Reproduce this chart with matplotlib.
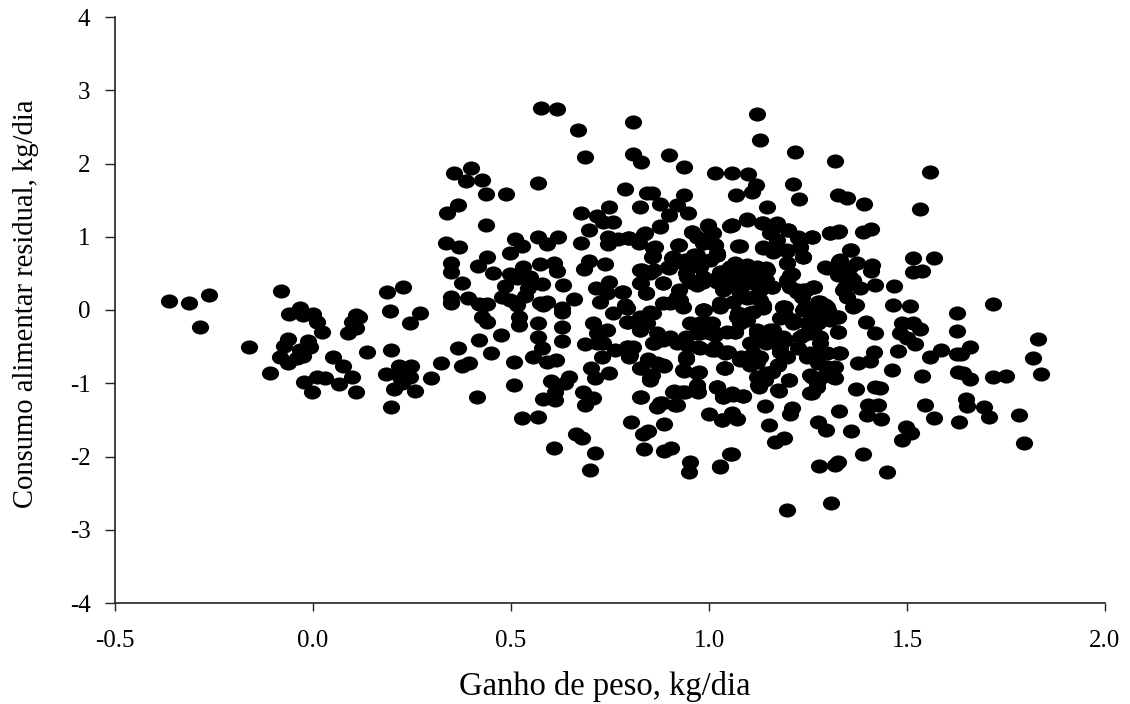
import matplotlib
matplotlib.use('Agg')
import matplotlib.pyplot as plt
from matplotlib.path import Path
from matplotlib.transforms import Affine2D

plt.rcParams['font.family'] = ['Liberation Serif', 'DejaVu Serif']
plt.rcParams['axes.unicode_minus'] = False

# Values, by region: left group
x_left = [-0.363, -0.312, -0.263, -0.285, -0.162, -0.109, -0.081, -0.033, -0.061, -0.026, 0.001, 0.009, 0.022,
          -0.062, -0.072, -0.012, -0.008, -0.033, -0.083, -0.062, -0.024, -0.041, 0.05, 0.075, 0.098, 0.009,
          0.03, -0.023, -0.003, 0.066, 0.108, 0.137, 0.197, 0.109, 0.117, 0.098, 0.108, 0.088, 0.188, 0.227,
          0.194, 0.269, 0.246, 0.323, 0.217, 0.247, 0.184, 0.22, 0.245, 0.297, 0.224, 0.205, 0.258, 0.225, 0.197]
y_left = [0.12, 0.09, 0.20, -0.23, -0.505, -0.86, 0.255, 0.03, -0.055, -0.07, -0.055, -0.16, -0.295,
          -0.40, -0.49, -0.42, -0.50, -0.546, -0.646, -0.73, -0.63, -0.66, -0.64, -0.77, -0.91, -0.91,
          -0.93, -0.98, -1.115, -1.01, -1.115, -0.573, -0.55, -0.068, -0.09, -0.168, -0.24, -0.31, 0.246, 0.31,
          -0.01, -0.04, -0.178, -0.72, -0.77, -0.77, -0.88, -0.91, -0.91, -0.93, -0.98, -1.08, -1.10, -1.0, -1.33]

# upper middle
x_upmid = [0.577, 0.617, 0.668, 0.807, 0.688, 0.807, 0.828, 0.898, 0.938, 1.015, 0.398, 0.357, 0.387, 0.428,
           0.438, 0.487, 0.567, 0.788, 0.843, 0.855, 0.938, 0.877, 0.918, 0.367, 0.338, 0.827, 0.898, 0.948,
           0.677, 0.748, 0.717, 0.757, 0.733, 0.698, 0.437, 0.877, 0.958, 0.997, 1.01, 1.053, 0.969, 0.335,
           0.369, 0.509, 0.529, 0.498, 0.567, 0.59, 0.619, 0.677, 0.746, 0.746, 0.771, 0.798, 0.824, 0.837,
           0.864, 0.858, 0.923, 0.906, 0.898, 1.016, 1.02, 0.986, 0.961, 0.935, 0.969, 1.003, 0.439, 0.416,
           0.348, 0.349, 0.454, 0.375, 0.348, 0.348, 0.392, 0.418, 0.439, 0.531, 0.572, 0.609, 0.615, 0.498,
           0.485, 0.477, 0.497, 0.516, 0.514, 0.548, 0.578, 0.544, 0.536, 0.573, 0.59, 0.632, 0.658, 0.628,
           0.698, 0.684, 0.738, 0.714, 0.748, 0.78, 0.742, 0.725, 0.788, 0.826, 0.86, 0.828, 0.841, 0.885,
           0.923, 0.927, 0.885, 0.986, 1.028, 0.944, 0.986, 1.028, 1.02, 0.969, 1.045, 1.053]
y_upmid = [2.753, 2.748, 2.452, 2.562, 2.084, 2.134, 2.025, 2.12, 1.952, 1.874, 1.943, 1.875, 1.76, 1.779,
           1.588, 1.588, 1.729, 1.647, 1.592, 1.592, 1.57, 1.447, 1.429, 1.438, 1.329, 1.406, 1.297, 1.324,
           1.319, 1.401, 1.283, 1.197, 1.206, 1.092, 1.16, 1.137, 1.069, 1.151, 1.046, 1.151, 1.0, 0.91,
           0.864, 0.965, 0.878, 0.778, 1.0, 0.896, 0.992, 0.915, 1.001, 0.896, 0.965, 0.978, 0.91, 1.037,
           0.864, 0.742, 0.887, 0.705, 0.569, 0.887, 0.751, 0.91, 0.751, 0.637, 0.637, 0.683, 0.728, 0.605,
           0.637, 0.523, 0.509, 0.373, 0.182, 0.114, 0.159, 0.077, 0.077, 0.591, 0.628, 0.637, 0.532, 0.487,
           0.327, 0.182, 0.137, 0.068, 0.432, 0.455, 0.355, 0.296, 0.191, 0.091, 0.114, 0.341, 0.145, 0.023,
           0.669, 0.56, 0.623, 0.296, 0.386, 0.241, 0.227, 0.114, 0.068, 0.546, 0.546, 0.364, 0.227, 0.373,
           0.273, 0.136, 0.091, 0.0, 0.091, 0.455, 0.455, 0.523, 0.386, 0.341, 0.318, 0.591]

# lower middle
x_lowmid = [0.348, 0.43, 0.426, 0.439, 0.519, 0.52, 0.582, 0.569, 0.628, 0.628, 0.568, 0.628, 0.578, 0.475,
            0.418, 0.367, 0.45, 0.556, 0.59, 0.614, 0.508, 0.395, 0.377, 0.508, 0.415, 0.601, 0.647, 0.636,
            0.611, 0.58, 0.611, 0.681, 0.708, 0.687, 0.528, 0.568, 0.663, 0.679, 0.608, 0.711, 0.7, 0.703,
            0.712, 0.748, 0.687, 0.716, 0.731, 0.708, 0.742, 0.716, 0.733, 0.763, 0.792, 0.809, 0.799, 0.757,
            0.788, 0.796, 0.826, 0.851, 0.843, 0.86, 0.885, 0.919, 0.944, 0.978, 0.969, 1.003, 0.994, 0.988,
            1.028, 1.045, 1.015, 1.041, 0.942, 0.847, 0.828, 0.887, 0.868, 0.851, 0.855, 0.937, 0.976, 0.969,
            0.973, 1.039, 1.02, 1.036, 0.912, 0.933, 0.828, 0.881, 0.868, 0.919, 0.803, 0.886, 0.847, 0.834,
            0.999, 1.033, 0.836, 0.887, 0.903, 0.953, 0.95, 1.027, 1.053]
y_lowmid = [0.10, 0.068, -0.091, -0.168, -0.091, -0.205, 0.068, -0.173, -0.023, -0.237, -0.364, -0.423, -0.514, -0.341,
            -0.41, -0.519, -0.587, -0.646, -0.705, -0.682, -0.71, -0.728, -0.76, -1.019, -1.188, -0.969, -0.91, -1.0,
            -1.115, -1.215, -1.229, -1.124, -1.197, -1.297, -1.479, -1.465, -1.692, -1.752, -1.879, -1.947, -2.184, -0.796,
            -0.933, -0.855, -0.469, -0.455, -0.637, -0.182, -0.273, -0.319, -0.455, -0.546, -0.5, -0.5, -0.637, -0.045,
            0.036, -0.159, -0.273, -0.023, -0.182, -0.455, -0.41, -0.432, -0.478, -0.523, -0.319, -0.319, -0.182, 0.0,
            0.068, -0.296, -0.5, -0.59, -0.669, -0.669, -0.796, -0.764, -0.728, -0.955, -0.887, -0.828, -0.842, -1.024,
            -1.115, -0.796, -1.056, -1.183, -1.106, -1.115, -1.183, -1.265, -1.329, -1.297, -1.533, -1.556, -1.647, -1.697,
            -1.42, -1.5, -1.897, -1.925, -1.888, -2.079, -2.216, -2.14, -1.965]

# upper right
x_upright = [1.122, 1.128, 1.217, 1.318, 1.557, 1.057, 1.098, 1.118, 1.108, 1.068, 1.211, 1.227, 1.327, 1.348,
             1.391, 1.533, 1.147, 1.097, 1.057, 1.135, 1.168, 1.2, 1.157, 1.226, 1.259, 1.306, 1.329, 1.388,
             1.409, 1.078, 1.137, 1.16, 1.171, 1.198, 1.23, 1.238, 1.358, 1.198, 1.209, 1.198, 1.297, 1.328,
             1.373, 1.411, 1.409, 1.339, 1.327, 1.356, 1.418, 1.381, 1.344, 1.348, 1.468, 1.515, 1.568, 1.516,
             1.537, 1.264, 1.238, 1.221, 1.205, 1.718, 1.464, 1.508, 1.37, 1.276, 1.297, 1.242, 1.192, 1.137,
             1.028, 1.158, 1.146, 1.087, 1.053, 1.104, 1.07, 1.112, 1.019, 1.078, 1.129, 1.036, 1.095, 1.066,
             1.12, 1.045, 1.019]
y_upright = [2.671, 2.32, 2.157, 2.034, 1.879, 1.865, 1.856, 1.706, 1.615, 1.565, 1.715, 1.515, 1.57, 1.524,
             1.442, 1.374, 1.41, 1.229, 1.156, 1.183, 1.169, 1.092, 1.069, 0.987, 0.996, 1.046, 1.074, 1.06,
             1.101, 0.869, 0.864, 0.819, 0.955, 0.81, 0.864, 0.728, 0.814, 0.637, 0.487, 0.41, 0.578, 0.669,
             0.637, 0.614, 0.532, 0.546, 0.478, 0.455, 0.337, 0.296, 0.318, 0.182, 0.323, 0.705, 0.705, 0.514,
             0.537, 0.318, 0.273, 0.25, 0.318, 0.082, 0.068, 0.055, 0.068, 0.114, 0.045, 0.045, 0.045, 0.068,
             0.068, 0.318, 0.546, 0.591, 0.455, 0.41, 0.318, 0.182, 0.41, 0.227, 0.273, 0.273, 0.614, 0.637,
             0.591, 0.546, 0.773]

# lower right
x_lowright = [1.627, 1.627, 1.627, 1.83, 1.818, 1.838, 1.659, 1.637, 1.587, 1.557, 1.52, 1.533, 1.516, 1.487,
              1.482, 1.499, 1.477, 1.418, 1.397, 1.417, 1.407, 1.377, 1.461, 1.539, 1.63, 1.642, 1.658, 1.717,
              1.749, 1.371, 1.419, 1.432, 1.402, 1.428, 1.4, 1.435, 1.546, 1.649, 1.652, 1.695, 1.708, 1.784,
              1.796, 1.567, 1.631, 1.328, 1.358, 1.274, 1.296, 1.209, 1.205, 1.141, 1.152, 1.189, 1.167, 1.057,
              1.028, 1.498, 1.51, 1.487, 1.39, 1.327, 1.318, 1.277, 1.45, 1.307, 1.198, 1.021, 1.036, 1.057,
              1.087, 1.057, 1.07, 1.032, 1.04, 1.203, 1.177, 1.127, 1.259, 1.272, 1.28, 1.318, 1.255, 1.317,
              1.329, 1.327, 1.327, 1.306, 1.293, 1.259, 1.276, 1.188, 1.192, 1.213, 1.255, 1.264, 1.238, 1.28,
              1.255, 1.297, 1.276, 1.297, 1.175, 1.158, 1.12, 1.141, 1.104, 1.082, 1.129, 1.112, 1.154, 1.192,
              1.179, 1.226, 1.162, 1.12, 1.066, 1.015, 1.007, 1.028, 1.074, 1.112, 1.137, 1.095, 1.015, 1.049]
y_lowright = [-0.041, -0.287, -0.6, -0.391, -0.651, -0.878, -0.51, -0.596, -0.546, -0.646, -0.469, -0.255, -0.173, -0.182,
              -0.319, -0.387, -0.555, -0.319, -0.164, -0.578, -0.696, -0.728, -0.82, -0.896, -0.842, -0.855, -0.942, -0.915,
              -0.905, -1.083, -1.05, -1.06, -1.297, -1.297, -1.438, -1.492, -1.292, -1.215, -1.31, -1.329, -1.461, -1.429,
              -1.811, -1.474, -1.524, -1.374, -1.647, -1.533, -1.634, -1.337, -1.42, -1.306, -1.574, -1.743, -1.797, -1.961,
              -2.134, -1.597, -1.674, -1.779, -1.961, -2.079, -2.116, -2.134, -2.216, -2.634, -2.734, -1.056, -1.192, -1.137,
              -1.174, -1.41, -1.483, -1.5, -0.796, -0.955, -1.101, -1.056, -1.138, -1.046, -0.933, -0.933, -0.887, -0.773,
              -0.582, -0.296, -0.091, -0.137, 0.068, 0.0, -0.182, 0.045, -0.068, -0.182, -0.159, -0.319, -0.341, -0.455,
              -0.592, -0.592, -0.728, -0.82, -0.75, -0.842, -0.91, -0.955, -0.75, -0.637, -0.637, -0.455, -0.41, -0.41,
              -0.569, -0.523, -0.273, -0.273, -0.296, -0.319, -0.182, 0.045, -0.045, -0.023, 0.036, -0.137, -0.546, -0.569]

# dense centre of the cloud
x_center = [1.066, 1.099, 1.145, 1.044, 1.078, 1.112, 1.145, 1.019, 0.986, 0.952, 1.053, 1.087, 1.12, 1.158,
            0.922, 0.91, 0.939, 0.969, 0.956, 0.998, 1.007, 1.015, 1.019, 0.985, 0.977, 0.943, 0.897, 0.83,
            0.859, 0.855, 0.838, 0.796, 0.876, 0.851, 0.826, 0.884, 0.842, 0.783, 0.918, 0.901, 0.935, 0.792,
            0.826, 0.859, 0.792, 0.826, 0.952, 0.985, 0.977, 0.998, 1.015, 0.977, 0.943, 0.901, 0.868, 0.859,
            0.918, 0.973, 1.028, 1.061, 1.095, 1.129, 1.07, 1.103, 1.137, 1.078, 1.066, 1.12, 1.154, 1.188,
            1.103, 1.145, 1.179, 1.044, 1.112, 1.078, 1.12, 1.175, 1.04, 1.145, 1.124, 1.175, 1.202, 1.188,
            1.179, 1.213, 1.238, 1.247, 1.272, 1.255, 1.28, 1.28, 1.301, 1.327, 1.327, 1.23, 1.263, 1.246,
            1.234, 1.196, 1.204, 1.196, 1.221, 1.074, 1.057, 1.095, 1.137, 1.171, 1.2, 1.154, 1.225, 1.259,
            1.23, 1.238, 1.137, 1.162, 1.196, 1.331, 1.293, 1.327, 1.356, 1.364, 1.339, 1.364, 1.356, 1.305,
            1.327, 1.289, 1.331, 1.297, 1.314, 1.259, 1.272, 1.255, 1.247, 1.196, 1.019, 1.036, 1.061, 1.087,
            0.969, 0.935, 0.969, 0.939, 0.91, 0.826, 0.876, 0.914, 0.884, 0.847, 0.826, 0.851, 0.796, 0.8,
            0.943, 1.007]
y_center = [0.592, 0.592, 0.569, 0.478, 0.478, 0.478, 0.41, 0.432, 0.387, 0.387, 0.341, 0.341, 0.341, 0.318,
            0.887, 0.728, 0.682, 0.751, 1.069, 1.16, 1.047, 0.887, 0.751, 0.91, 0.592, 0.5, 0.592, 0.546,
            0.842, 0.728, 1.047, 0.978, 1.147, 0.5, 0.364, 0.364, 0.227, 0.25, 0.182, 0.091, 0.045, 0.023,
            -0.091, -0.045, -0.159, -0.273, -0.182, 0.0, -0.182, -0.205, -0.341, -0.319, -0.364, -0.364, -0.319, -0.455,
            -0.455, -0.5, 0.068, 0.114, 0.159, 0.136, -0.091, -0.046, 0.023, -0.182, -0.296, -0.319, -0.273, -0.364,
            -0.455, -0.455, -0.523, -0.569, -0.592, -0.683, -0.705, -0.751, -0.796, -0.865, -1.024, -1.092, -0.956, 0.045,
            -0.114, -0.137, 0.0, -0.182, -0.091, -0.319, -0.364, 0.114, 0.0, -0.091, -0.296, -0.364, 0.318, 0.273,
            0.182, 0.637, 0.478, 0.387, 0.273, 0.874, 1.16, 1.238, 1.183, 1.183, 1.092, 1.047, 1.001, 1.001,
            0.865, 0.728, 0.842, 0.796, 0.819, 0.682, 0.582, 0.5, 0.592, 0.41, 0.273, 0.045, 0.819, 1.056,
            1.069, -0.592, -0.592, -0.774, -0.91, -0.91, -1.0, -1.138, -0.637, -0.637, -1.047, -1.16, -1.16, -1.169,
            -0.865, -0.819, -1.069, -1.115, -1.115, -1.183, -1.274, -1.297, -0.751, -0.683, -0.796, -0.933, -0.5, -0.614,
            -0.637, -0.546]

x_ticks = [-0.5, 0.0, 0.5, 1.0, 1.5, 2.0]
y_ticks = [-4, -3, -2, -1, 0, 1, 2, 3, 4]
x_title = 'Ganho de peso, kg/dia'
y_title = 'Consumo alimentar residual, kg/dia'

x_all = x_left + x_upmid + x_lowmid + x_upright + x_lowright + x_center
y_all = y_left + y_upmid + y_lowmid + y_upright + y_lowright + y_center

fig = plt.figure(figsize=(11.30, 7.04), dpi=100)
ax = fig.add_axes([115 / 1130, 1 - 603 / 704, 990 / 1130, 586 / 704])

# points in the original are wider than tall
oval = Path.unit_circle().transformed(Affine2D().scale(1, 0.82))
ax.plot(x_all, y_all, linestyle='none', marker=oval, markersize=12.4, color='black', markeredgewidth=0)

ax.set_xlim(-0.5, 2.0)
ax.set_ylim(-4, 4)
ax.set_xticks(x_ticks)
ax.set_yticks(y_ticks)
ax.set_xticklabels(['%.1f' % t for t in x_ticks])
ax.tick_params(axis='x', direction='out', length=5.8, width=1.0, color='#222222', labelsize=18, pad=13.5)
ax.tick_params(axis='y', direction='out', length=7.2, width=1.0, color='#222222', labelsize=18, pad=10.5)

ax.spines['top'].set_visible(False)
ax.spines['right'].set_visible(False)
ax.spines['left'].set_linewidth(1.2)
ax.spines['bottom'].set_linewidth(1.2)
ax.spines['left'].set_color('#222222')
ax.spines['bottom'].set_color('#222222')

fig.text(605 / 1130, 1 - 686 / 704, x_title, fontsize=23.5, ha='center', va='center')
fig.text(26 / 1130, 1 - 304 / 704, y_title, fontsize=20.6, rotation=90, ha='center', va='center')

fig.savefig('out.png', dpi=100)
